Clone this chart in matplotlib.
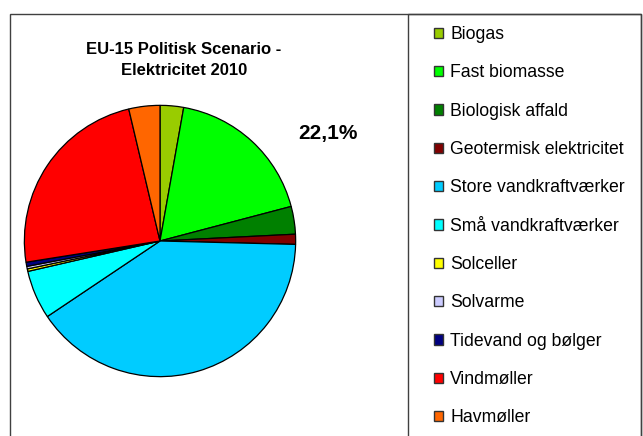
import matplotlib
matplotlib.use("Agg")
import matplotlib.pyplot as plt
from matplotlib.patches import Rectangle

categories = ["Biogas", "Fast biomasse", "Biologisk affald", "Geotermisk elektricitet",
              "Store vandkraftværker", "Små vandkraftværker", "Solceller", "Solvarme",
              "Tidevand og bølger", "Vindmøller", "Havmøller"]
shares = [2.8, 18.1, 3.3, 1.2, 40.2, 5.8, 0.3, 0.3, 0.5, 23.8, 3.7]
colors = ["#99CC00", "#00FF00", "#008000", "#800000", "#00CCFF", "#00FFFF",
          "#FFFF00", "#CCCCFF", "#000080", "#FF0000", "#FF6600"]
title = "EU-15 Politisk Scenario -\nElektricitet 2010"
share_label = "22,1%"

plt.rcParams['font.family'] = ['Liberation Sans', 'DejaVu Sans']

W, H = 643, 436
fig = plt.figure(figsize=(W / 100, H / 100), dpi=100)
fig.patch.set_facecolor("white")

def fx(px):
    return px / W

def fy(py):
    return 1 - py / H

# outer chart border and legend box
fig.patches.append(Rectangle((fx(10), fy(440)), fx(641) - fx(10), fy(14) - fy(440),
                             transform=fig.transFigure, fill=False, edgecolor="#404040", lw=1.0))
fig.patches.append(Rectangle((fx(408), fy(440)), fx(641) - fx(408), fy(14) - fy(440),
                             transform=fig.transFigure, fill=False, edgecolor="#404040", lw=1.0))

cx, cy, r = 160, 241, 137
ax = fig.add_axes([fx(cx - r), fy(cy + r), 2 * r / W, 2 * r / H])
wedges, _ = ax.pie(shares, colors=colors, startangle=90, counterclock=False,
                   wedgeprops=dict(edgecolor="black", linewidth=0.9))
ax.set_xlim(-1.01, 1.01)
ax.set_ylim(-1.01, 1.01)
ax.set_aspect("equal")
ax.axis("off")

fig.text(fx(184), fy(60), title, ha="center", va="center", fontsize=12,
         fontweight="bold", linespacing=1.5)
fig.text(fx(328), fy(133), share_label, ha="center", va="center", fontsize=15,
         fontweight="bold")

leg = fig.legend(wedges, categories, loc="upper left", bbox_to_anchor=(fx(434), fy(26)),
                 frameon=False, fontsize=12.7, handlelength=0.52, handleheight=0.52,
                 handletextpad=0.4, labelspacing=1.21, borderpad=0, borderaxespad=0)
for h in leg.legend_handles:
    h.set_linewidth(1.0)
    h.set_edgecolor("#333333")

fig.savefig("out.png", dpi=100)
